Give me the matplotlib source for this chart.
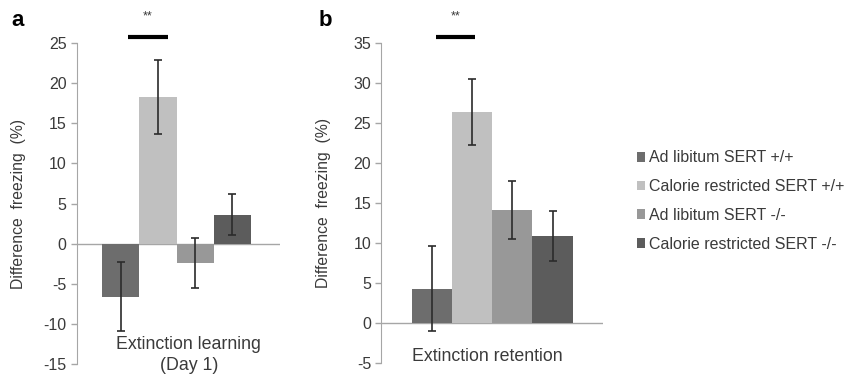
import numpy as np
import matplotlib
matplotlib.use("Agg")
import matplotlib.pyplot as plt
from matplotlib.patches import Patch

plt.rcParams['font.family'] = ['Liberation Sans', 'DejaVu Sans']
plt.rcParams['axes.unicode_minus'] = False

# data
groups = ['Ad libitum SERT +/+', 'Calorie restricted SERT +/+',
          'Ad libitum SERT -/-', 'Calorie restricted SERT -/-']
learning_mean = [-6.6, 18.3, -2.4, 3.6]
learning_err = [4.3, 4.6, 3.1, 2.55]
retention_mean = [4.3, 26.4, 14.2, 10.9]
retention_err = [5.3, 4.1, 3.65, 3.1]

colors = ['#6d6d6d', '#c0c0c0', '#989898', '#5c5c5c']
axis_grey = '#a6a6a6'
text_grey = '#3a3a3a'

fig = plt.figure(figsize=(8.5, 3.8), dpi=100)
ax_a = fig.add_axes([0.0906, 0.0421, 0.2388, 0.8447])
ax_b = fig.add_axes([0.4488, 0.0440, 0.2606, 0.8420])

x = np.arange(len(groups))


def draw_panel(ax, means, errs, ylim, xlim):
    ax.bar(x, means, width=1.0, color=colors, edgecolor='none', zorder=2)
    ax.errorbar(x, means, yerr=errs, fmt='none', ecolor='#2b2b2b',
                elinewidth=1.2, capsize=3.2, capthick=1.2, zorder=3)
    ax.axhline(0, color=axis_grey, lw=1.0, zorder=1)
    ax.set_ylim(*ylim)
    ax.set_xlim(*xlim)
    ax.set_yticks(np.arange(ylim[0], ylim[1] + 1, 5))
    ax.set_xticks([])
    for s in ['top', 'right', 'bottom']:
        ax.spines[s].set_visible(False)
    ax.spines['left'].set_color(axis_grey)
    ax.tick_params(axis='y', colors=axis_grey, labelcolor=text_grey,
                   labelsize=11.5, length=4, width=1.0)
    ax.set_ylabel('Difference  freezing  (%)', fontsize=11.3, color=text_grey)


# panel a
draw_panel(ax_a, learning_mean, learning_err, (-15, 25), (-1.18, 4.28))
ax_a.yaxis.set_label_coords(-0.25, 0.5)
ax_a.plot([0.2, 1.27], [25.8, 25.8], color='black', lw=3, clip_on=False,
          solid_capstyle='butt')
ax_a.text(0.73, 28.3, '**', ha='center', va='center', fontsize=9,
          color=text_grey, clip_on=False)
ax_a.text(1.83, -13.9, 'Extinction learning\n(Day 1)', ha='center',
          va='center', fontsize=12.8, color=text_grey, linespacing=1.3,
          clip_on=False)
fig.text(0.021, 0.945, 'a', fontsize=16, fontweight='bold', ha='center',
         va='center')

# panel b
draw_panel(ax_b, retention_mean, retention_err, (-5, 35), (-1.27, 4.26))
ax_b.yaxis.set_label_coords(-0.228, 0.5)
ax_b.plot([0.08, 1.06], [35.8, 35.8], color='black', lw=3, clip_on=False,
          solid_capstyle='butt')
ax_b.text(0.57, 38.3, '**', ha='center', va='center', fontsize=9,
          color=text_grey, clip_on=False)
ax_b.text(1.36, -4.2, 'Extinction retention', ha='center', va='center',
          fontsize=12.8, color=text_grey)
fig.text(0.383, 0.945, 'b', fontsize=16, fontweight='bold', ha='center',
         va='center')

# legend
handles = [Patch(facecolor=c, edgecolor='none') for c in colors]
fig.legend(handles, groups, loc='upper left', bbox_to_anchor=(0.749, 0.604),
           frameon=False, fontsize=11.5, handlelength=0.55, handleheight=0.55,
           handletextpad=0.2, labelspacing=0.86, labelcolor=text_grey,
           borderaxespad=0, borderpad=0)

fig.savefig('out.png', dpi=100)
